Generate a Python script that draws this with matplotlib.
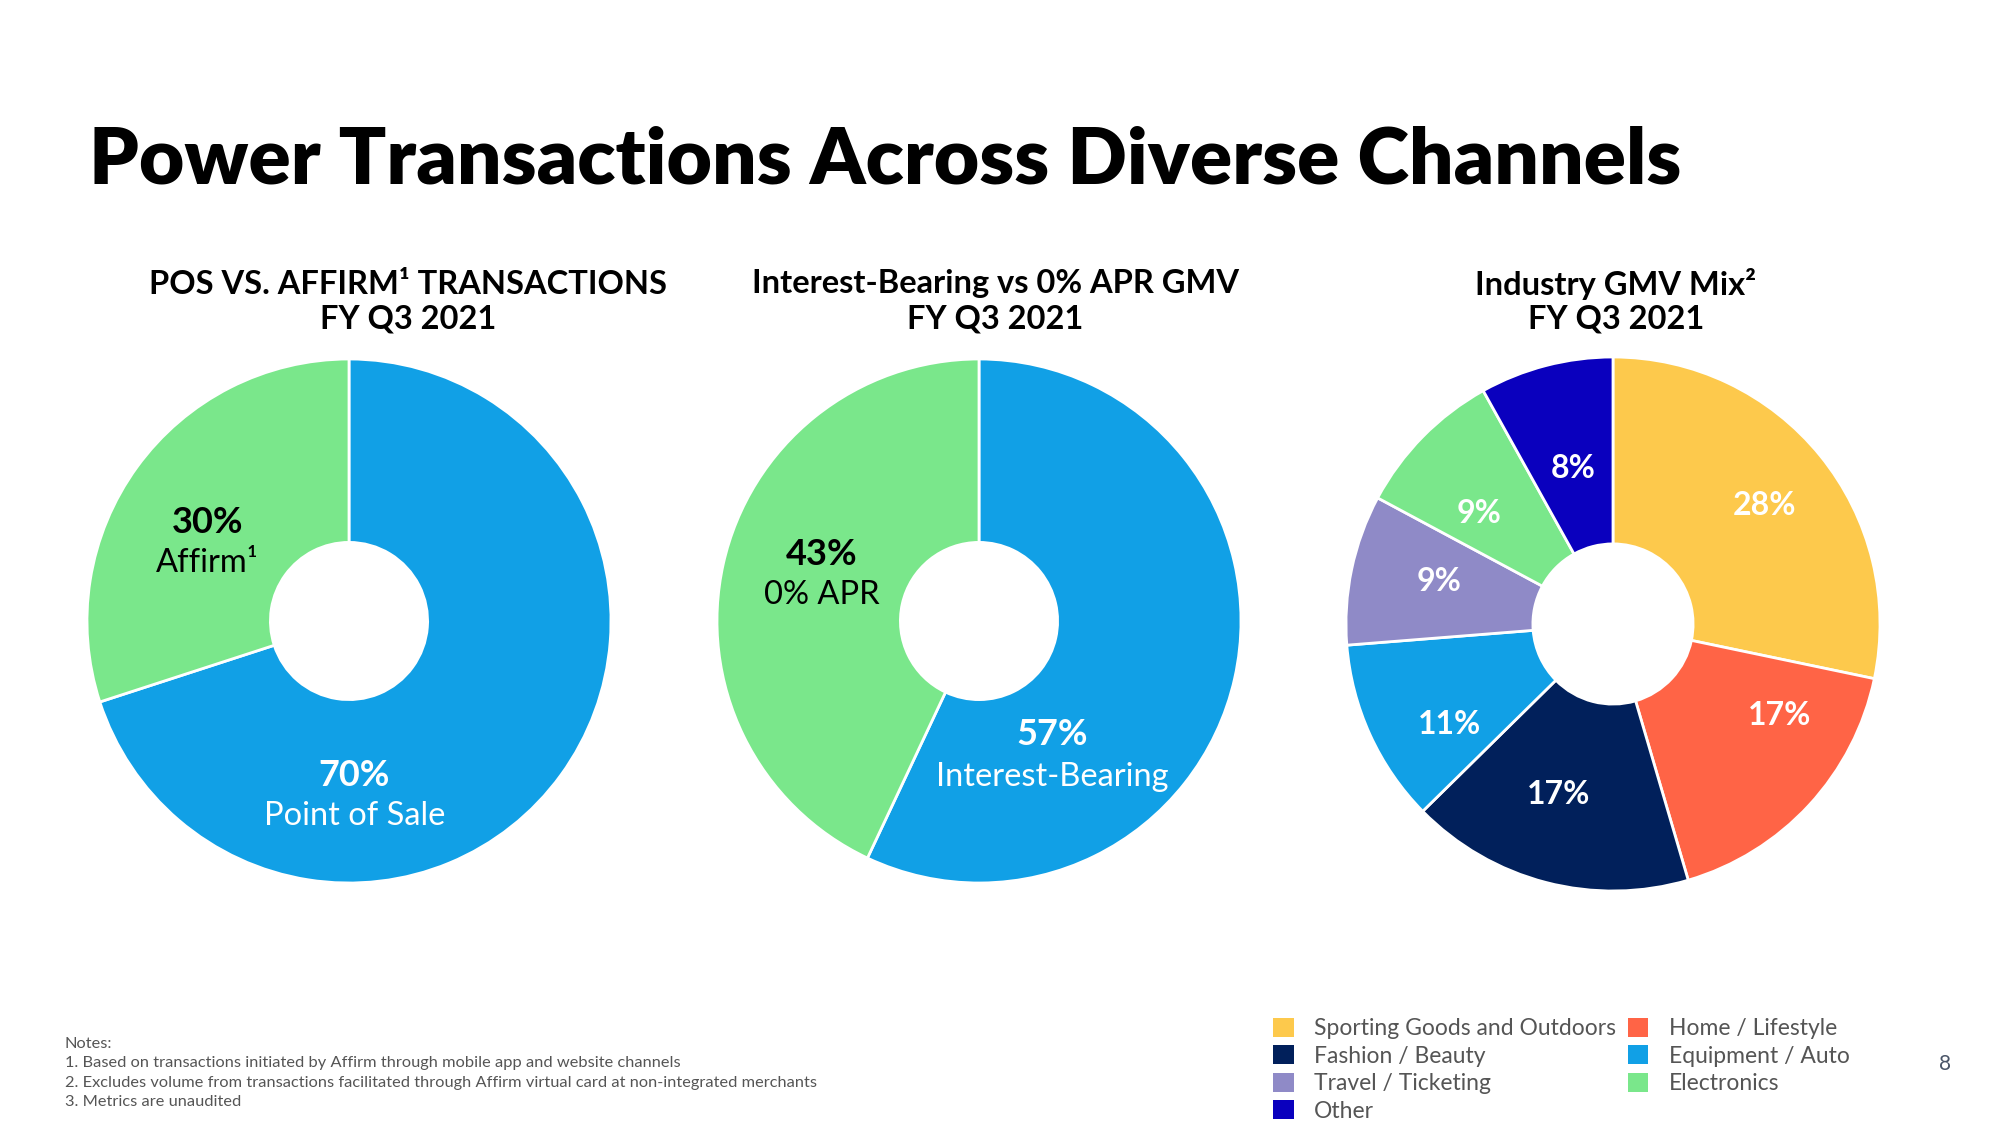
import numpy as np
import matplotlib.pyplot as plt
from matplotlib.patches import Patch

plt.rcParams['font.family'] = ['Lato', 'DejaVu Sans']

# data
pos_labels = ['Point of Sale', 'Affirm\u00b9']
pos_values = [70, 30]

apr_labels = ['Interest-Bearing', '0% APR']
apr_values = [57, 43]

industry_labels = ['Sporting Goods and Outdoors', 'Home / Lifestyle', 'Fashion / Beauty',
                   'Equipment / Auto', 'Travel / Ticketing', 'Electronics', 'Other']
industry_values = [28, 17, 17, 11, 9, 9, 8]
industry_colors = ['#FDC94C', '#FF6446', '#01205B', '#11A0E6', '#8F8AC7', '#7AE78B', '#0A00BE']
legend_order = ['Sporting Goods and Outdoors', 'Fashion / Beauty', 'Travel / Ticketing', 'Other',
                'Home / Lifestyle', 'Equipment / Auto', 'Electronics']

notes = ['Notes:',
         '1. Based on transactions initiated by Affirm through mobile app and website channels',
         '2. Excludes volume from transactions facilitated through Affirm virtual card at non-integrated merchants',
         '3. Metrics are unaudited']

BLUE = '#11A0E6'
GREEN = '#7AE78B'
W, H = 2000, 1125

# hand placement of the percentage labels on the industry pie
# (angle nudge in deg, counter-clockwise; radius as fraction of the pie)
label_nudge = [(-1, 0.72), (14, 0.71), (-3, 0.67), (7, 0.72), (-2, 0.67), (5, 0.65), (0, 0.60)]

fig = plt.figure(figsize=(20, 11.25), dpi=100)
fig.patch.set_facecolor('white')


def pie_axes(cx, cy, r):
    # cx, cy, r in pixels (y from top)
    return fig.add_axes([(cx - r) / W, (H - cy - r) / H, 2 * r / W, 2 * r / H])


wedge_style = dict(width=0.7, edgecolor='white', linewidth=2)

# --- pie 1
ax1 = pie_axes(349, 621, 262)
ax1.pie(pos_values, colors=[BLUE, GREEN], startangle=90, counterclock=False,
        wedgeprops=wedge_style)
ax1.set_xlim(-1, 1)
ax1.set_ylim(-1, 1)
ax1.text(0.02, -0.59, f'{pos_values[0]}%', color='white', fontsize=26, weight='bold', ha='center', va='center')
ax1.text(0.02, -0.745, pos_labels[0], color='white', fontsize=23.5, ha='center', va='center')
ax1.text(-0.54, 0.375, f'{pos_values[1]}%', color='black', fontsize=26, weight='bold', ha='center', va='center')
ax1.text(-0.54, 0.22, pos_labels[1], color='black', fontsize=23.5, ha='center', va='center')

# --- pie 2
ax2 = pie_axes(979, 621, 262)
ax2.pie(apr_values, colors=[BLUE, GREEN], startangle=90, counterclock=False,
        wedgeprops=wedge_style)
ax2.set_xlim(-1, 1)
ax2.set_ylim(-1, 1)
ax2.text(0.28, -0.435, f'{apr_values[0]}%', color='white', fontsize=26, weight='bold', ha='center', va='center')
ax2.text(0.28, -0.595, apr_labels[0], color='white', fontsize=23.5, ha='center', va='center')
ax2.text(-0.60, 0.255, f'{apr_values[1]}%', color='black', fontsize=26, weight='bold', ha='center', va='center')
ax2.text(-0.60, 0.10, apr_labels[1], color='black', fontsize=23.5, ha='center', va='center')

# --- pie 3
ax3 = pie_axes(1613, 624, 267)
wedges, _ = ax3.pie(industry_values, colors=industry_colors, startangle=90,
                    counterclock=False, wedgeprops=wedge_style)
ax3.set_xlim(-1, 1)
ax3.set_ylim(-1, 1)
for w, v, (da, rr) in zip(wedges, industry_values, label_nudge):
    ang = np.deg2rad((w.theta1 + w.theta2) / 2 + da)
    ax3.text(rr * np.cos(ang), rr * np.sin(ang), f'{v}%', color='white', fontsize=23,
             weight='bold', ha='center', va='center')

# --- titles
fig.text(89 / W, 1 - 161 / H, 'Power Transactions Across Diverse Channels', fontsize=56.4,
         weight='heavy', ha='left', va='center', color='black')

subtitles = [(408, 'POS VS. AFFIRM\u00b9 TRANSACTIONS'),
             (995, 'Interest-Bearing vs 0% APR GMV'),
             (1616, 'Industry GMV Mix\u00b2')]
for x, s in subtitles:
    fig.text(x / W, 1 - 284 / H, s, fontsize=23.5, weight='bold', ha='center', va='center')
    fig.text(x / W, 1 - 319 / H, 'FY Q3 2021', fontsize=23.5, weight='bold', ha='center', va='center')

# --- legend
col = dict(zip(industry_labels, industry_colors))
handles = [Patch(facecolor=col[n], edgecolor='none', label=n) for n in legend_order]
fig.legend(handles=handles, loc='upper left', bbox_to_anchor=(1273 / W, 1 - 1018 / H),
           ncol=2, frameon=False, fontsize=16.5, labelcolor='#555555',
           handlelength=0.9, handleheight=0.9, handletextpad=0.9, labelspacing=0.26,
           columnspacing=0.5, borderpad=0, borderaxespad=0)

# --- notes
for i, line in enumerate(notes):
    fig.text(65 / W, 1 - (1044 + 19.3 * i) / H, line, fontsize=11.8, color='#555555',
             ha='left', va='center')

fig.text(1945 / W, 1 - 1064 / H, '8', fontsize=15, color='#4A5568', ha='center', va='center')

fig.savefig('out.png', dpi=100, facecolor='white')
